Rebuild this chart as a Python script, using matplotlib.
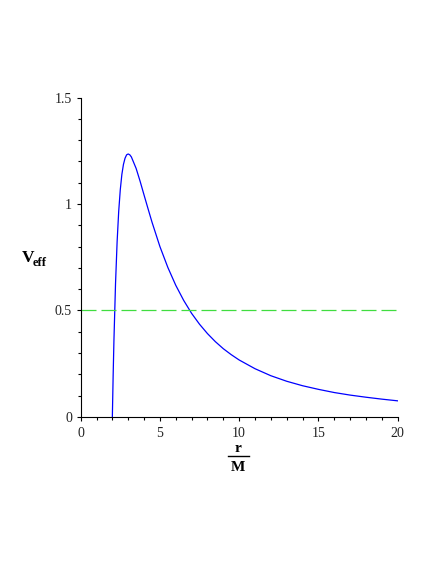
import matplotlib
matplotlib.use("Agg")
import matplotlib.pyplot as plt
from matplotlib.ticker import MultipleLocator, FixedLocator

plt.rcParams['font.family'] = ['Liberation Serif', 'DejaVu Serif']

# data
r_vals = [2.0, 2.05, 2.1, 2.2, 2.3, 2.4, 2.5, 2.6, 2.7, 2.8, 2.9, 3.0, 3.1, 3.2,
          3.5, 3.75, 4.0, 4.25, 4.5, 5.0, 5.5, 6.0, 6.5, 7.0, 7.5, 8.0, 8.5,
          9.0, 9.5, 10.0, 11.0, 12.0, 13.0, 14.0, 15.0, 16.0, 17.0, 18.0,
          19.0, 20.0]
v_eff = [0.0, 0.194, 0.360, 0.626, 0.822, 0.965, 1.067, 1.139, 1.186, 1.215,
         1.231, 1.235, 1.231, 1.221, 1.167, 1.107, 1.042, 0.978, 0.915, 0.800,
         0.702, 0.618, 0.547, 0.486, 0.435, 0.391, 0.353, 0.320, 0.292, 0.267,
         0.226, 0.193, 0.167, 0.146, 0.129, 0.114, 0.102, 0.092, 0.083, 0.075]
level_x = [0.0, 20.0]
level_y = [0.5, 0.5]
x_ticks = [0, 5, 10, 15, 20]
x_labels = ['0', '5', '10', '15', '20']
y_ticks = [0, 0.5, 1.0, 1.5]
y_labels = ['0', '0.5', '1', '1.5']

fig = plt.figure(figsize=(4.36, 5.64), dpi=100)
ax = fig.add_axes([0.185, 0.261, 0.727, 0.566])

ax.plot(r_vals, v_eff, color='#0000ff', lw=0.9)
ax.plot(level_x, level_y, color='#40dd40', lw=0.9, dashes=(12, 4))

ax.set_xlim(0, 20)
ax.set_ylim(0, 1.5)
for s in ['top', 'right']:
    ax.spines[s].set_visible(False)
for s in ['left', 'bottom']:
    ax.spines[s].set_linewidth(0.8)

ax.xaxis.set_major_locator(FixedLocator(x_ticks))
ax.set_xticklabels(x_labels)
ax.yaxis.set_major_locator(FixedLocator(y_ticks))
ax.set_yticklabels(y_labels)
ax.xaxis.set_minor_locator(MultipleLocator(1))
ax.yaxis.set_minor_locator(MultipleLocator(0.1))
ax.tick_params(which='major', length=3.2, width=0.8, labelsize=10,
               labelcolor='#222222', direction='out')
ax.tick_params(which='minor', length=2.2, width=0.8, direction='out')
ax.tick_params(axis='x', pad=4)
ax.tick_params(axis='y', pad=3)

# y label V_eff
fig.text(22/436, 1 - 262/564, 'V', fontsize=12.5, fontweight='bold',
         ha='left', va='baseline')
fig.text(33/436, 1 - 266/564, 'eff', fontsize=9, fontweight='bold',
         ha='left', va='baseline')

# x label r / M
fig.text(238/436, 1 - 452/564, 'r', fontsize=11, fontweight='bold',
         ha='center', va='baseline')
fig.add_artist(plt.Line2D([228/436, 249/436], [1 - 456/564, 1 - 456/564],
                          color='black', lw=1.0, transform=fig.transFigure))
fig.text(238/436, 1 - 471/564, 'M', fontsize=11, fontweight='bold',
         ha='center', va='baseline')

fig.savefig('out.png', dpi=100)
